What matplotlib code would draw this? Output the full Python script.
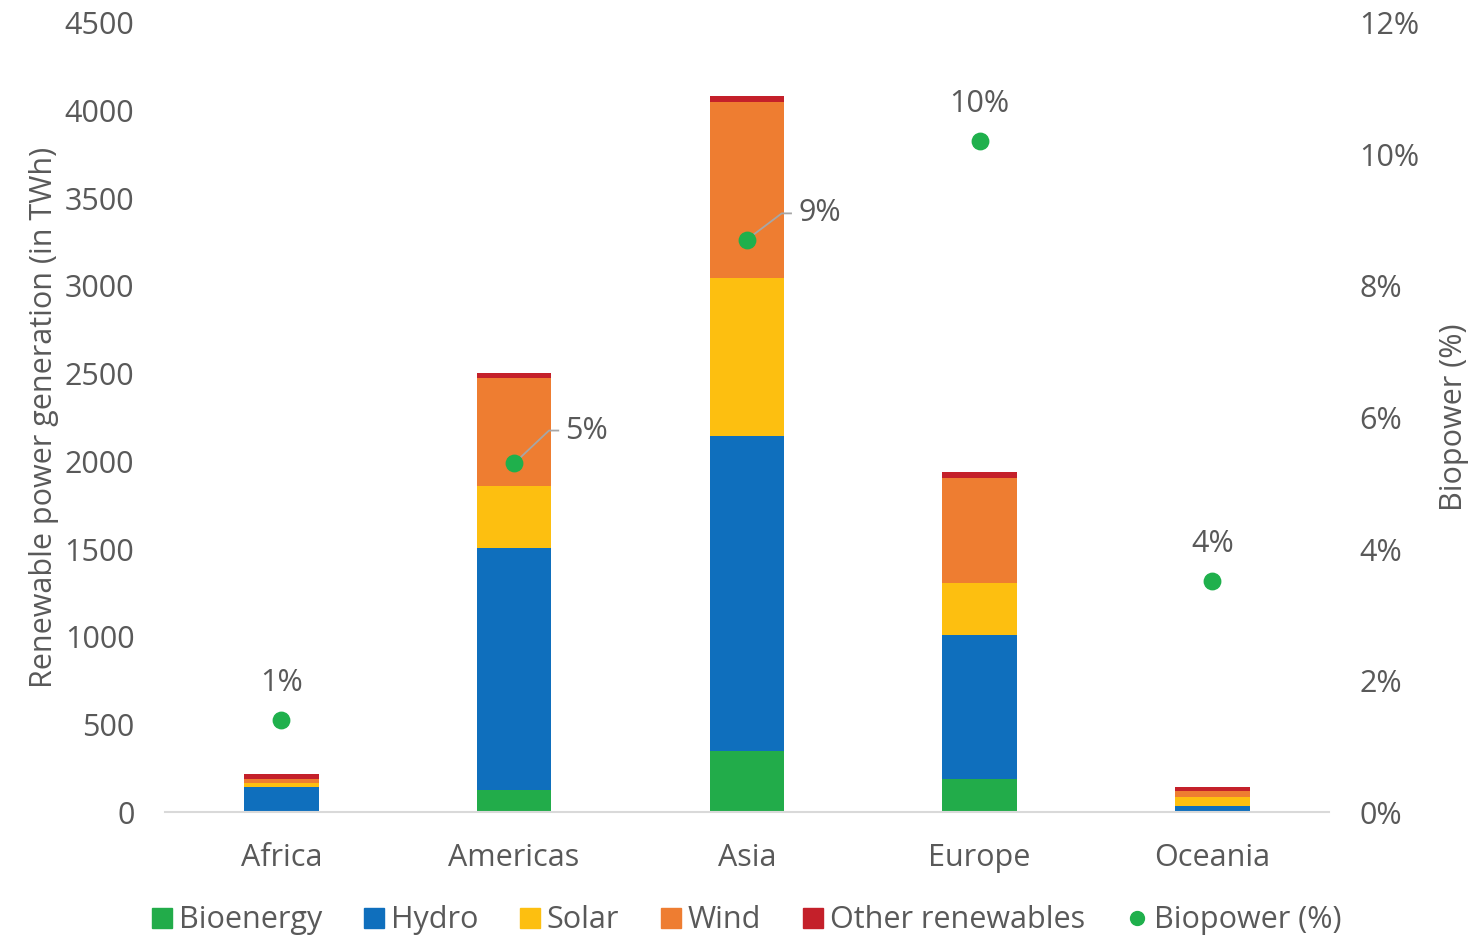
import matplotlib.pyplot as plt
from matplotlib.lines import Line2D
import numpy as np

plt.rcParams['font.family'] = ['Open Sans', 'DejaVu Sans']

regions = ['Africa', 'Americas', 'Asia', 'Europe', 'Oceania']
bioenergy = [4, 125, 347, 188, 4]
hydro = [140, 1379, 1795, 820, 30]
solar = [23, 353, 900, 296, 53]
wind = [21, 615, 1004, 602, 33]
other = [28, 30, 38, 32, 21]
biopower_pct = [1.4, 5.3, 8.7, 10.2, 3.52]

series = [('Bioenergy', bioenergy, '#22ac4a'),
          ('Hydro', hydro, '#0f6fbd'),
          ('Solar', solar, '#fdbf10'),
          ('Wind', wind, '#ee7d31'),
          ('Other renewables', other, '#c4202a')]
grey = '#595959'
fs = 22

fig = plt.figure(figsize=(14.73, 9.39), dpi=100)
ax = fig.add_axes([0.112, 0.135, 0.79, 0.841])
ax2 = ax.twinx()

x = np.arange(len(regions))
bottom = np.zeros(len(regions))
for name, vals, c in series:
    ax.bar(x, vals, 0.32, bottom=bottom, color=c, label=name, zorder=2)
    bottom += np.array(vals)

ax.set_xlim(-0.5, 4.5)
ax.set_ylim(0, 4500)
ax.set_yticks(np.arange(0, 4501, 500))
ax.set_xticks(x)
ax.set_xticklabels(regions)
ax.tick_params(axis='both', length=0, labelsize=fs, colors=grey)
ax.tick_params(axis='x', pad=22)
ax.tick_params(axis='y', pad=22)
for s in ['top', 'right', 'left']:
    ax.spines[s].set_visible(False)
ax.spines['bottom'].set_color('#d9d9d9')
ax.spines['bottom'].set_linewidth(1.5)
ax.set_ylabel('Renewable power generation (in TWh)', fontsize=fs, color=grey, labelpad=4)

ax2.set_ylim(0, 12)
ax2.set_yticks(np.arange(0, 13, 2))
ax2.set_yticklabels([f'{v}%' for v in range(0, 13, 2)])
ax2.tick_params(axis='y', length=0, labelsize=fs, colors=grey, pad=22)
for s in ['top', 'right', 'left', 'bottom']:
    ax2.spines[s].set_visible(False)
ax2.set_ylabel('Biopower (%)', fontsize=fs, color=grey, labelpad=14)

ax2.scatter(x, biopower_pct, s=140, color='#1fb04c', zorder=3)

# percentage labels: plain above the dot, or with a leader line when inside a bar
leader = {1: (0.15, 0.5), 2: (0.15, 0.4)}
for i, v in enumerate(biopower_pct):
    txt = f'{v:.0f}%'
    if i in leader:
        dx, dy = leader[i]
        ax2.plot([x[i], x[i] + dx, x[i] + dx + 0.04], [v, v + dy, v + dy],
                 color='#a6a6a6', lw=1.3, zorder=2.5)
        ax2.text(x[i] + dx + 0.07, v + dy, txt, fontsize=fs, color=grey,
                 va='center', ha='left')
    else:
        ax2.text(x[i], v + 0.33, txt, fontsize=fs, color=grey,
                 va='bottom', ha='center')

handles = [Line2D([], [], marker='s', ls='none', color=c, markersize=14, label=n)
           for n, _, c in series]
handles.append(Line2D([], [], marker='o', ls='none', color='#1fb04c',
                      markersize=10, label='Biopower (%)'))
fig.legend(handles=handles, loc='center', bbox_to_anchor=(0.505, 0.02), ncol=6,
           frameon=False, fontsize=fs, labelcolor=grey, handletextpad=0.05,
           columnspacing=1.2, handlelength=1.0)

fig.savefig('out.png', dpi=100)
